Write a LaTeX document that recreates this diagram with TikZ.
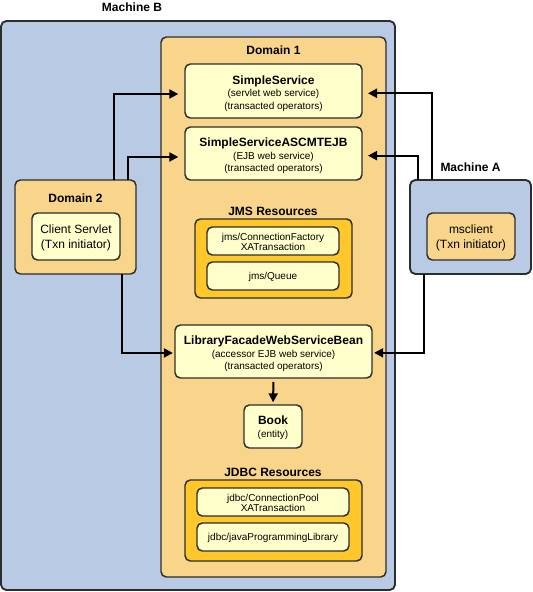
\documentclass[tikz,border=0pt]{standalone}
\usepackage{fontspec}
\setmainfont{Liberation Sans}
\usetikzlibrary{arrows.meta}
\definecolor{mblue}{RGB}{185,203,228}
\definecolor{dorange}{RGB}{248,213,139}
\definecolor{lyellow}{RGB}{255,255,204}
\definecolor{rgold}{RGB}{255,199,41}
\definecolor{edge}{RGB}{45,45,45}
\begin{document}
\begin{tikzpicture}[x=0.75pt,y=-0.75pt,
  sz/.style 2 args={minimum width=#1*0.75pt, minimum height=#2*0.75pt},
  boxframe/.style={draw=edge, line width=1.1pt, rounded corners=4pt, inner sep=0pt, outer sep=0pt},
  machbox/.style={boxframe, fill=mblue, line width=1.4pt},
  dombox/.style={boxframe, fill=dorange},
  compbox/.style={boxframe, fill=lyellow},
  resbox/.style={boxframe, fill=rgold},
  ctext/.style={align=center, inner sep=0pt, font=\fontsize{7.5}{9.4}\selectfont},
  hdr/.style={font=\bfseries\fontsize{9}{11}\selectfont, inner sep=0pt},
  bigtxt/.style={ctext, font=\fontsize{9}{11.25}\selectfont},
  tighttxt/.style={ctext, font=\fontsize{7.5}{7.4}\selectfont},
  arr/.style={draw=black, line width=1.5pt, -{Triangle[length=6.75pt,width=6.75pt]}},
]
\useasboundingbox (0,0) rectangle (532,592);

% Machine B
\node[machbox, sz={394}{569}] (mb) at (198,305.5) {};
\node[hdr] (mbl) at (132,7) {Machine B};

% Domain 1
\node[dombox, sz={225}{540}] (d1) at (273.5,307) {};
\node[hdr] (d1l) at (273.5,50.5) {Domain 1};
\node[compbox, sz={177}{54},
  label={[ctext, yshift=-1.9pt]center:{{\bfseries\fontsize{9}{9.4}\selectfont SimpleService}\\(servlet web service)\\(transacted operators)}}] (ss) at (273.5,91) {};
\node[compbox, sz={177}{53},
  label={[ctext, yshift=-1.9pt]center:{{\bfseries\fontsize{9}{9.4}\selectfont SimpleServiceASCMTEJB}\\(EJB web service)\\(transacted operators)}}] (sa) at (273.5,153.5) {};

\node[hdr] (jmsl) at (273,211) {JMS Resources};
\node[resbox, sz={157}{79}] (jms) at (273.5,258.5) {};
\node[compbox, sz={132}{28},
  label={[tighttxt, yshift=-0.6pt]center:{jms/ConnectionFactory\\XATransaction}}] (jcf) at (273,241) {};
\node[compbox, sz={132}{28},
  label={[ctext, yshift=-0.9pt]center:{jms/Queue}}] (jq) at (273,276) {};

\node[compbox, sz={197}{53},
  label={[ctext, yshift=-1.9pt]center:{{\bfseries\fontsize{9}{9.4}\selectfont LibraryFacadeWebServiceBean}\\(accessor EJB web service)\\(transacted operators)}}] (lfb) at (273.5,351.5) {};
\node[compbox, sz={58}{43},
  label={[ctext, yshift=-0.8pt]center:{{\bfseries\fontsize{9}{9.4}\selectfont Book}\\[0.3pt](entity)}}] (book) at (273,426.5) {};

\node[hdr] (jdbcl) at (273,472.5) {JDBC Resources};
\node[resbox, sz={177}{81}] (jdbc) at (273.5,520.5) {};
\node[compbox, sz={152}{28},
  label={[tighttxt, yshift=-0.6pt]center:{jdbc/ConnectionPool\\XATransaction}}] (jcp) at (273,502) {};
\node[compbox, sz={152}{28},
  label={[ctext, yshift=-0.6pt]center:{jdbc/javaProgrammingLibrary}}] (jpl) at (273,537) {};

% Domain 2
\node[dombox, sz={121}{94}] (d2) at (75.5,227) {};
\node[hdr] (d2l) at (75.5,198) {Domain 2};
\node[compbox, sz={88}{47},
  label={[bigtxt, yshift=-1.4pt]center:{Client Servlet\\(Txn initiator)}}] (cs) at (76,236.5) {};

% Machine A
\node[hdr] (mal) at (470.5,167) {Machine A};
\node[machbox, sz={121}{94}] (ma) at (470.5,227) {};
\node[compbox, fill=dorange, sz={88}{47},
  label={[bigtxt, yshift=-1.4pt]center:{msclient\\(Txn initiator)}}] (msc) at (471,236.5) {};

% helper x positions
\coordinate (x114) at (114,0);
\coordinate (x128) at (128,0);
\coordinate (x122) at (122,0);
\coordinate (x432) at (432,0);
\coordinate (x418) at (418,0);
\coordinate (x424) at (424,0);

% connectors
\draw[arr, shorten >=5pt] (d2.north -| x114) |- ([yshift=-2.25pt]ss.west);
\draw[arr, shorten >=5pt] (d2.north -| x128) |- ([yshift=-2.6pt]sa.west);
\draw[arr, shorten >=1.6pt] (d2.south -| x122) |- ([yshift=-1.1pt]lfb.west);
\draw[arr, shorten >=4.5pt] (ma.north -| x432) |- ([yshift=-1.7pt]ss.east);
\draw[arr, shorten >=4.5pt] (ma.north -| x418) |- ([yshift=-1.6pt]sa.east);
\draw[arr, shorten >=1.6pt] (ma.south -| x424) |- ([yshift=-1pt]lfb.east);
\draw[arr, shorten <=3pt, shorten >=2pt] (lfb.south) -- (book.north);
\end{tikzpicture}
\end{document}
